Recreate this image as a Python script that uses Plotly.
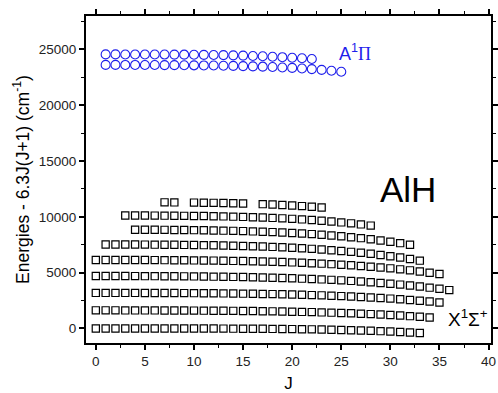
import plotly.graph_objects as go

# ---- data ----
# X1Sigma+ state, rows v = 0..8 : J values and energies - 6.3J(J+1) (cm-1)
J_v0 = list(range(0, 34))
E_v0 = [0, 0, 0, 0, 0, 0, 0, -1, -1, -2, -3, -5, -7, -10, -13, -17, -22, -28, -35, -44,
        -54, -66, -79, -95, -112, -132, -154, -180, -207, -239, -273, -312, -354, -400]

J_v1 = list(range(0, 35))
E_v1 = [1625, 1625, 1624, 1623, 1622, 1620, 1619, 1616, 1613, 1609, 1605, 1600, 1594, 1587,
        1580, 1571, 1562, 1550, 1537, 1522, 1506, 1487, 1467, 1444, 1420, 1392, 1362, 1327,
        1291, 1250, 1207, 1158, 1107, 1050, 990]

J_v2 = list(range(0, 36))
E_v2 = [3190, 3190, 3189, 3188, 3187, 3184, 3182, 3179, 3175, 3170, 3165, 3159, 3152, 3143,
        3134, 3123, 3110, 3096, 3081, 3062, 3043, 3020, 2994, 2968, 2936, 2903, 2866, 2826,
        2781, 2731, 2680, 2621, 2558, 2489, 2416, 2335]

J_v3 = list(range(0, 37))
E_v3 = [4700, 4700, 4699, 4697, 4695, 4692, 4689, 4684, 4679, 4673, 4666, 4657, 4647, 4635,
        4623, 4608, 4591, 4571, 4550, 4525, 4499, 4468, 4436, 4398, 4358, 4312, 4263, 4207,
        4149, 4082, 4012, 3932, 3851, 3758, 3661, 3555, 3440]

J_v4 = list(range(0, 36))
E_v4 = [6140, 6140, 6139, 6137, 6135, 6132, 6128, 6123, 6118, 6111, 6103, 6094, 6083, 6071,
        6057, 6041, 6023, 6001, 5979, 5952, 5923, 5890, 5851, 5812, 5766, 5717, 5662, 5603,
        5537, 5463, 5388, 5301, 5209, 5107, 5000, 4880]

J_v5 = list(range(1, 34))
E_v5 = [7530, 7528, 7526, 7523, 7519, 7514, 7508, 7501, 7492, 7482, 7469, 7455, 7438, 7419,
        7397, 7372, 7343, 7311, 7274, 7233, 7187, 7136, 7079, 7016, 6946, 6869, 6784, 6691,
        6589, 6477, 6356, 6224, 6080]

J_v6 = list(range(4, 33))
E_v6 = [8853, 8850, 8845, 8838, 8831, 8822, 8811, 8799, 8784, 8767, 8748, 8725, 8700, 8670,
        8637, 8600, 8558, 8510, 8457, 8399, 8333, 8261, 8181, 8093, 7996, 7890, 7774, 7648,
        7510]

J_v7 = list(range(3, 29))
E_v7 = [10127, 10124, 10121, 10116, 10110, 10104, 10095, 10085, 10073, 10058, 10042, 10022,
        9999, 9973, 9943, 9908, 9869, 9825, 9775, 9719, 9656, 9586, 9508, 9421, 9325, 9220]

J_v8 = [7, 8, 10, 11, 12, 13, 14, 15, 17, 18, 19, 20, 21, 22, 23]
E_v8 = [11304, 11298, 11281, 11270, 11256, 11240, 11220, 11198, 11141, 11106, 11065, 11019,
        10966, 10907, 10840]

# A1Pi state, two rows
J_A_up = list(range(1, 23))
E_A_up = [24560, 24560, 24555, 24555, 24550, 24550, 24545, 24540, 24535, 24530, 24520, 24510,
          24495, 24475, 24450, 24420, 24390, 24350, 24310, 24260, 24210, 24150]
J_A_lo = list(range(1, 26))
E_A_lo = [23620, 23620, 23615, 23615, 23610, 23605, 23600, 23595, 23590, 23580, 23570, 23560,
          23545, 23530, 23510, 23485, 23460, 23430, 23390, 23350, 23300, 23240, 23170, 23090,
          23000]

x_ticks = [0, 5, 10, 15, 20, 25, 30, 35, 40]
y_ticks = [0, 5000, 10000, 15000, 20000, 25000]

FONT = "Arial, Liberation Sans, sans-serif"
BLUE = "rgb(30,30,235)"

fig = go.Figure()
rows = [(J_v0, E_v0), (J_v1, E_v1), (J_v2, E_v2), (J_v3, E_v3), (J_v4, E_v4),
        (J_v5, E_v5), (J_v6, E_v6), (J_v7, E_v7), (J_v8, E_v8)]
for jj, ee in rows:
    fig.add_trace(go.Scatter(x=jj, y=ee, mode="markers",
                             marker=dict(symbol="square-open", size=7.2, color="black",
                                         line=dict(width=1.2, color="black")),
                             showlegend=False))
for jj, ee in [(J_A_up, E_A_up), (J_A_lo, E_A_lo)]:
    fig.add_trace(go.Scatter(x=jj, y=ee, mode="markers",
                             marker=dict(symbol="circle-open", size=9, color=BLUE,
                                         line=dict(width=1.1, color=BLUE)),
                             showlegend=False))

fig.add_annotation(x=24.6, y=24750, xref="x", yref="y", xanchor="left", yanchor="middle",
                   text="A<sup>1</sup><span style=\"font-family:'Liberation Serif',Times,serif\">Π</span>",
                   showarrow=False, font=dict(family=FONT, size=18, color=BLUE))
fig.add_annotation(x=31.8, y=12430, xref="x", yref="y", xanchor="center", yanchor="middle",
                   text="AlH", showarrow=False, font=dict(family=FONT, size=35, color="black"))
fig.add_annotation(x=35.7, y=900, xref="x", yref="y", xanchor="left", yanchor="middle",
                   text="X<sup>1</sup>Σ<sup>+</sup>", showarrow=False,
                   font=dict(family=FONT, size=19, color="black"))

axis_common = dict(showline=True, linewidth=2, linecolor="black", mirror="allticks",
                   ticks="outside", ticklen=5, tickwidth=1.5, tickcolor="black",
                   showgrid=False, zeroline=False, automargin=False, tickformat="d",
                   tickfont=dict(family=FONT, size=13.5, color="#222"))

fig.update_xaxes(range=[-1.0, 40.25], tickvals=x_ticks,
                 minor=dict(dtick=2.5, tick0=0, ticks="outside", ticklen=3, tickwidth=1.2,
                            tickcolor="black"),
                 title=dict(text="J", font=dict(family=FONT, size=17, color="black"), standoff=16),
                 **axis_common)
fig.update_yaxes(range=[-1300, 28000], tickvals=y_ticks,
                 minor=dict(dtick=2500, tick0=0, ticks="outside", ticklen=3, tickwidth=1.2,
                            tickcolor="black"),
                 title=dict(text="Energies - 6.3J(J+1) (cm<sup>-1</sup>)",
                            font=dict(family=FONT, size=17.5, color="black"), standoff=5),
                 **axis_common)

fig.update_layout(width=498, height=393, margin=dict(l=86, r=7, t=16, b=50),
                  plot_bgcolor="white", paper_bgcolor="white")

fig.write_html("out.html", config={"displayModeBar": False},
               post_script="document.body.style.margin='0';document.body.style.overflow='hidden';")
